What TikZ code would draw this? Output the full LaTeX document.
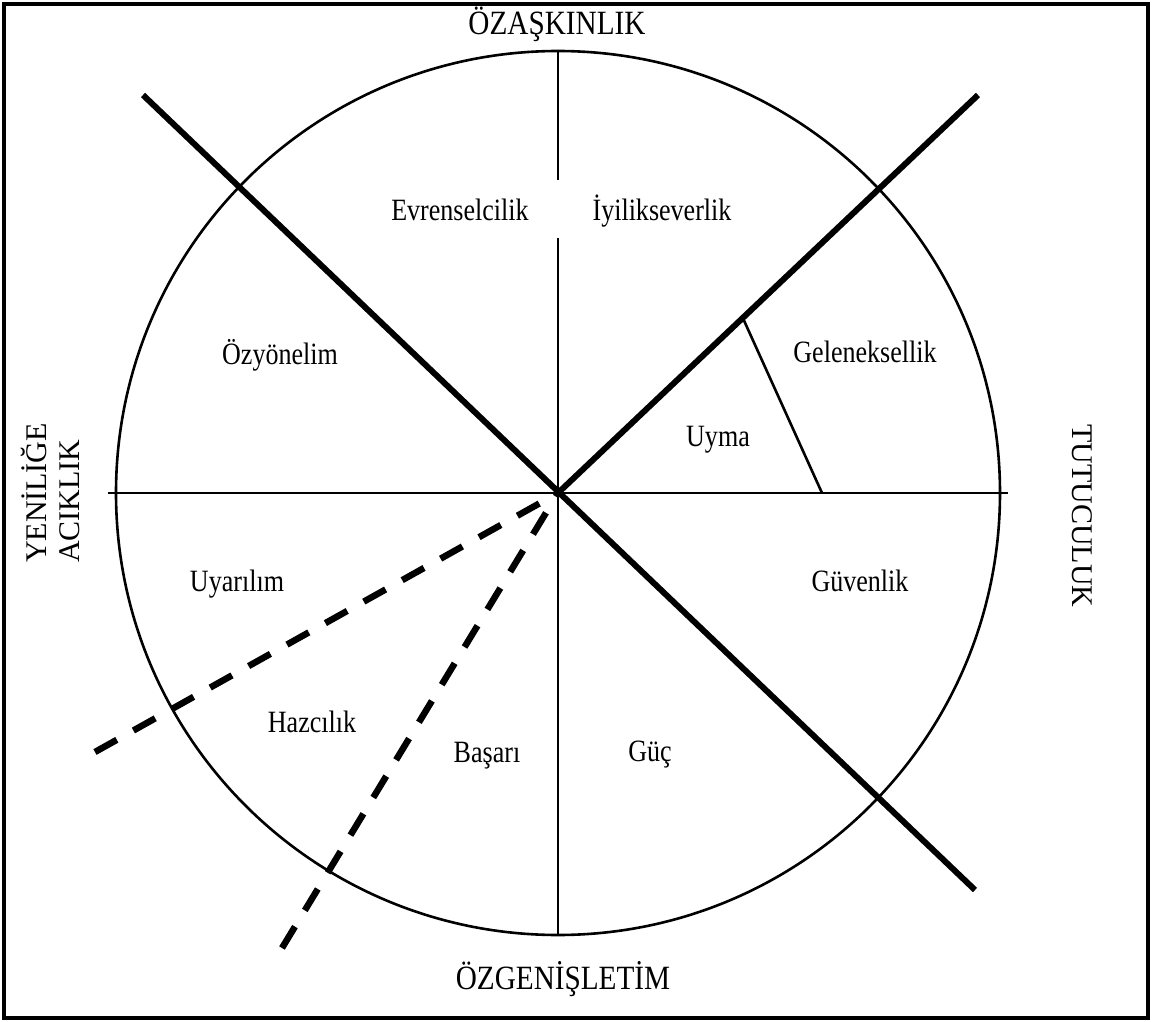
\documentclass[tikz,border=0pt]{standalone}
\usepackage{fontspec}
\setmainfont{Liberation Serif}
\usetikzlibrary{calc}
\begin{document}
\begin{tikzpicture}[x=1pt,y=-1pt,
  thinline/.style={line width=2.6pt},
  thickline/.style={line width=6pt},
  dashline/.style={line width=6.5pt, dash pattern=on 25pt off 19pt},
  lbl/.style={font=\fontsize{31}{33}\selectfont, xscale=0.84, anchor=base, inner sep=0pt},
  ttl/.style={font=\fontsize{34}{36}\selectfont, xscale=0.86, anchor=base, inner sep=0pt},
  side/.style={font=\fontsize{30}{33}\selectfont, inner sep=0pt},
]
\useasboundingbox (0,0) rectangle (1152,1022);
\draw[line width=3.5pt] (4,4) rectangle (1148,1018);
\coordinate (c) at (558,493);
\node[draw, circle, minimum size=884pt, inner sep=0pt, thinline] (circ) at (c) {};
% axes
\coordinate (hl) at (108,493);
\coordinate (hr) at (1008,493);
\coordinate (vgapt) at (558,180);
\coordinate (vgapb) at (558,238);
\draw[thinline] (hl) -- (hr);
\draw[thinline] (circ.north) -- (vgapt);
\draw[thinline] (vgapb) -- (circ.south);
% thick diagonals
\coordinate (aS) at (143,95);
\coordinate (aE) at (975,890);
\coordinate (bE) at (978,95);
\draw[thickline] (aS) -- (aE);
\draw[thickline] (c) -- (bE);
% thin separator
\coordinate (tS) at ($(c)!0.44!(bE)$);
\coordinate (tE) at (822,493);
\draw[thinline] (tS) -- (tE);
% dashed
\coordinate (d1) at (95,752);
\coordinate (d2) at (282,948);
\draw[dashline] (d1) -- (c);
\draw[dashline] (d2) -- (c);
% labels
\node[lbl] (evr) at (460,220) {Evrenselcilik};
\node[lbl] (iyi) at (662,220) {İyilikseverlik};
\node[lbl] (ozy) at (280,364) {Özyönelim};
\node[lbl] (gel) at (865,362) {Geleneksellik};
\node[lbl] (uym) at (718,446) {Uyma};
\node[lbl] (uya) at (237,591) {Uyarılım};
\node[lbl] (haz) at (312,732) {Hazcılık};
\node[lbl] (bas) at (487,762) {Başarı};
\node[lbl] (guc) at (650,761) {Güç};
\node[lbl] (guv) at (860,591) {Güvenlik};
% titles
\node[ttl] (top) at (557,35) {ÖZAŞKINLIK};
\node[ttl] (bot) at (563,989) {ÖZGENİŞLETİM};
\node[side, rotate=90, align=left] (left) at (50,493) {YENİLİĞE\\ACIKLIK};
\node[side, rotate=-90] (right) at (1082,516) {TUTUCULUK};
\end{tikzpicture}
\end{document}
